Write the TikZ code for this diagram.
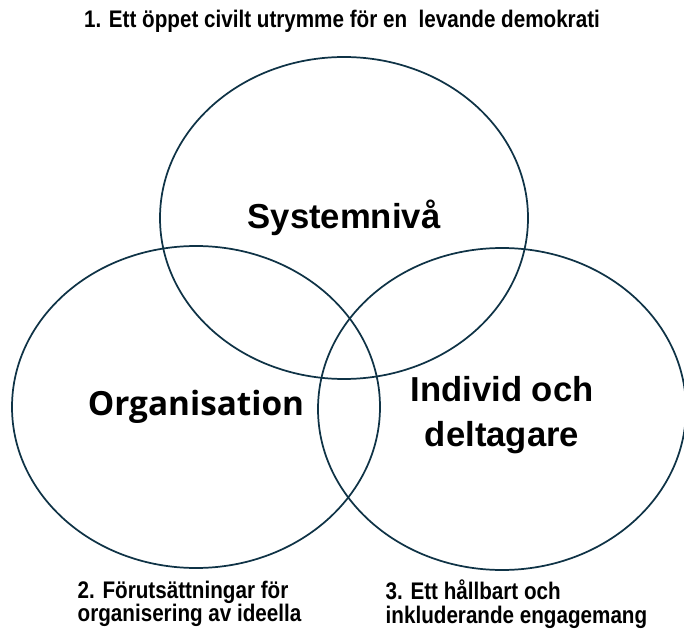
\documentclass[tikz,border=0pt]{standalone}
\usepackage{fontspec}
\setmainfont{Liberation Sans}
\newfontfamily\narrowfont[FakeStretch=0.86]{Liberation Sans}
\newfontfamily\orgfont{Open Sans}
\usetikzlibrary{shapes.geometric}
\definecolor{ringblue}{HTML}{0F3346}

\begin{document}
\begin{tikzpicture}[x=0.75pt,y=-0.75pt,
	ring/.style={ellipse,draw=ringblue,line width=1.3pt,inner sep=0pt,
		minimum width=276pt,minimum height=241.5pt},
	heading/.style={font=\narrowfont\bfseries\fontsize{18}{18}\selectfont},
	caption/.style={font=\narrowfont\bfseries\fontsize{18}{17.5}\selectfont,align=left,anchor=west}]
	\useasboundingbox (0,0) rectangle (684,630);

	% the three circles
	\node[ring,font=\bfseries\fontsize{26}{30}\selectfont] (sys) at (344,218) {Systemnivå};
	\node[ring,font=\orgfont\bfseries\fontsize{25}{30}\selectfont] (org) at (196,407) {Organisation};
	\node[ring,align=center,font=\bfseries\fontsize{26}{34}\selectfont] (ind) at (502,409) {\rule{0pt}{0pt}\\[-6pt]Individ och\\deltagare};

	% texts
	\node[heading] (t1) at (342,21) {1. Ett öppet civilt utrymme för en\ \ levande demokrati};
	\node[caption] (t2) at (73,604) {2. Förutsättningar för\\organisering av ideella};
	\node[caption] (t3) at (381,604) {3. Ett hållbart och\\inkluderande engagemang};
\end{tikzpicture}
\end{document}
